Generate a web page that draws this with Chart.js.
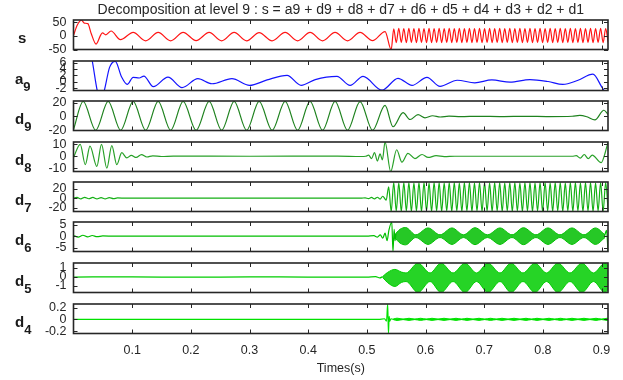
<!DOCTYPE html>
<html>
<head>
<meta charset="utf-8">
<title>Decomposition at level 9</title>
<script src="https://cdn.jsdelivr.net/npm/chart.js@4.4.1/dist/chart.umd.min.js"></script>
<style>
  html, body { margin: 0; padding: 0; background: #fff; }
  #wrap { position: relative; width: 623px; height: 380px; overflow: hidden; font-family: "Liberation Sans", Arial, sans-serif; }
  #wrap canvas { position: absolute; left: 0; }
  .lbl { position: absolute; font-size: 15px; line-height: 15px; font-weight: bold; color: #1a1a1a; white-space: nowrap; }
  .lbl sub { font-size: 13px; vertical-align: -7px; line-height: 0; }
</style>
</head>
<body>
<div id="wrap"></div>
<script>
Chart.defaults.font.family = '"Liberation Sans", Arial, sans-serif';
Chart.defaults.font.size = 12;
Chart.defaults.color = '#262626';

// === TEXTOS E EIXOS ===
const titleText = 'Decomposition at level 9 : s = a9 + d9 + d8 + d7 + d6 + d5 + d4 + d3 + d2 + d1';
const xTitle = 'Times(s)';
const timeTicks = [0.1, 0.2, 0.3, 0.4, 0.5, 0.6, 0.7, 0.8, 0.9];
const tEnd = 0.911;

const panelSym = ['s', 'a', 'd', 'd', 'd', 'd', 'd', 'd'];
const panelSub = ['', '9', '9', '8', '7', '6', '5', '4'];
const yMin = [-50, -2.7, -20.5, -12.8, -28, -6.7, -1.72, -0.24];
const yMax = [58.5, 6.5, 22.5, 12, 34, 6.2, 1.56, 0.26];
const yTicks = [[-50, 0, 50], [-2, 0, 2, 4, 6], [-20, 0, 20], [-10, 0, 10], [-20, 0, 20], [-5, 0, 5], [-1, 0, 1], [-0.2, 0, 0.2]];

// === SINAL s (parte lenta) ===
const sPts = [
  [0.000, 2], [0.0065, 40], [0.0135, 58], [0.0185, 47], [0.0245, 45], [0.0300, 10], [0.0385, -30],
  [0.0465, 4], [0.0495, 11], [0.0550, 4], [0.0640, 18], [0.0800, -14], [0.1017, 13], [0.1230, -18],
  [0.1443, 13], [0.1656, -18], [0.1869, 13], [0.2090, -17], [0.2312, 13], [0.2525, -18], [0.2738, 13],
  [0.2951, -18], [0.3164, 12], [0.3385, -18], [0.3607, 13], [0.3820, -18], [0.4032, 13], [0.4245, -18],
  [0.4458, 13], [0.4671, -18], [0.4884, 13], [0.5097, -17], [0.5310, 16]
];

// parte rápida (picos e vales a cada hfStep segundos)
const hfStep = 0.0043;
const sHfStart = 0.5415;
const sHf = [
  -50, 26, -25, 28, -24, 27, -25, 28, -24, 27,
  -25, 28, -24, 27, -25, 28, -25, 27, -24, 28,
  -25, 27, -24, 28, -25, 27, -24, 28, -25, 27,
  -24, 28, -25, 27, -24, 28, -25, 27, -24, 28,
  -25, 27, -24, 28, -25, 27, -24, 28, -25, 27,
  -24, 28, -25, 27, -24, 28, -25, 27, -24, 28,
  -25, 27, -24, 28, -25, 27, -24, 28, -25, 27,
  -24, 28, -25, 27, -24, 28, -25, 27, -24, 28,
  -25, 27, -24, 28, -25, 27, -24
];

// === APROXIMAÇÃO a9 ===
const a9Pts = [
  [0.000, 30], [0.022, 15], [0.032, 6.5], [0.0404, -2.7], [0.0465, -6], [0.0525, -2.7], [0.0615, 4.5],
  [0.0712, 6.4], [0.082, 1.5], [0.0915, -0.8], [0.1017, 1.4], [0.112, 1.2], [0.120, 1.8], [0.136, -1.5],
  [0.161, 1.5], [0.185, -1.8], [0.212, 1.0], [0.236, -0.6], [0.270, 1.0], [0.300, -1.1], [0.330, 0.6],
  [0.364, 2.0], [0.388, -1.1], [0.412, 0.7], [0.449, 1.7], [0.4714, -1.1], [0.4935, 1.7], [0.5259, -2.6],
  [0.553, 1.1], [0.577, -1.1], [0.6025, 1.4], [0.6247, -1.4], [0.654, 0.5], [0.684, -0.3], [0.713, 0.6],
  [0.744, -0.1], [0.778, 0.7], [0.809, 0.1], [0.834, -0.8], [0.860, 0.5], [0.8853, 2.4], [0.900, -1.5],
  [0.9065, -3.5], [0.911, -6]
];

// === DETALHES ===
const d9Pts = [
  [0.000, -19], [0.0165, 21.8], [0.0378, -20.2], [0.0591, 21.8], [0.0804, -20.2], [0.1017, 21.8],
  [0.1230, -20.2], [0.1443, 21.8], [0.1656, -20.2], [0.1869, 21.8], [0.2090, -20.2], [0.2312, 21.8],
  [0.2525, -20.2], [0.2738, 21.8], [0.2951, -20.2], [0.3164, 21.8], [0.3385, -20.2], [0.3607, 21.8],
  [0.3820, -20.2], [0.4032, 21.8], [0.4245, -20.2], [0.4458, 21.8], [0.4671, -20.2], [0.4884, 21.6],
  [0.5097, -20.2], [0.5310, 16], [0.5446, -15], [0.5617, 5.5], [0.5736, -4.5], [0.5872, 2.5],
  [0.5991, -2], [0.6120, 1], [0.6250, -0.8], [0.6400, 0.5], [0.6600, -0.3], [0.6900, 0.2], [0.7300, -0.2],
  [0.7700, 0.2], [0.8100, -0.2], [0.8500, 0.3], [0.8630, 1.5], [0.8750, -0.5], [0.8887, -5], [0.9040, 9],
  [0.9110, 3]
];

const d8Pts = [
  [0.000, -1], [0.0115, 10], [0.0201, -7], [0.0281, 8.5], [0.0398, -8.5], [0.0477, 10], [0.0568, -10],
  [0.0653, 9], [0.0738, -7], [0.0823, 3], [0.0909, -1.4], [0.0985, 0.8], [0.1068, -1], [0.1158, 1.4],
  [0.1250, -0.6], [0.1350, 0.4], [0.1500, -0.2], [0.1700, 0.1], [0.3000, 0], [0.4500, 0.1], [0.4900, -0.2],
  [0.4980, 0], [0.5030, 1], [0.5080, -2], [0.5130, 3], [0.5180, -4], [0.5225, 2], [0.5265, -3],
  [0.5310, 12], [0.5406, -12.8], [0.5508, 5.5], [0.5598, -5], [0.5700, 2.5], [0.5820, -2], [0.5940, 1.5],
  [0.6044, -1], [0.6180, 0.5], [0.6320, -0.3], [0.6500, 0], [0.8500, 0], [0.8568, 0.5], [0.8637, -1.5],
  [0.8705, 1.5], [0.8773, -2], [0.8841, 1], [0.8994, -5.4], [0.9062, 3], [0.9110, 12]
];

const d7Pts = [
  [0.000, 0], [0.006, 1.5], [0.0125, -1.5], [0.019, 1.8], [0.026, -1.2], [0.033, 1.5], [0.040, -1.5],
  [0.047, 1.2], [0.054, -1.4], [0.061, 1], [0.068, -1], [0.075, 0.5], [0.090, 0], [0.300, 0], [0.490, 0],
  [0.497, 0.8], [0.503, -1], [0.508, 1.5], [0.513, -1.5], [0.518, 2], [0.5225, -2], [0.527, 4]
];
const d7HfStart = 0.5329;
const d7Hf = [
  -4, 24, -28, 33, -27, 32, -28, 33, -27, 33,
  -28, 32, -27, 33, -28, 33, -27, 32, -28, 33,
  -27, 33, -28, 32, -27, 33, -28, 33, -27, 32,
  -28, 33, -27, 33, -28, 32, -27, 33, -28, 33,
  -27, 32, -28, 33, -27, 33, -28, 32, -27, 33,
  -28, 33, -27, 32, -28, 33, -27, 33, -28, 32,
  -27, 33, -28, 33, -27, 32, -28, 33, -27, 33,
  -28, 32, -27, 33, -28, 33, -27, 32, -28, 33,
  -27, 33, -28, 32, -27, 33, -28, 33, -27
];

const d6Pts = [
  [0.000, 0.3], [0.008, -0.4], [0.016, 0.4], [0.024, -0.3], [0.032, 0.3], [0.040, -0.2], [0.050, 0.1],
  [0.070, 0], [0.500, 0], [0.512, 0.2], [0.518, -0.4], [0.523, 0.6], [0.527, -0.9], [0.531, 1.3],
  [0.5345, -2], [0.5375, 2.5], [0.5425, 6.2], [0.5445, -6.7], [0.5465, 3], [0.5480, -2], [0.5495, 1]
];
const d6EndPts = [[0.905, 0], [0.9085, 2.5], [0.911, -6.5]];
// envoltória das oscilações rápidas de d6
const d6EnvT = [0.5470, 0.5565, 0.5659, 0.5834, 0.6043, 0.6247, 0.6451, 0.6647, 0.6843, 0.7056, 0.7269,
  0.7474, 0.7669, 0.7882, 0.8087, 0.8291, 0.8496, 0.8700, 0.8896, 0.9060];
const d6Up = [0.5, 3.0, 3.8, 0.6, 3.6, 0.6, 3.6, 0.6, 3.7, 0.6, 3.6, 0.6, 3.7, 0.6, 3.6, 0.6, 3.6, 0.6, 3.6, 0.6];
const d6Lo = [-0.5, -3.0, -3.8, -0.6, -3.6, -0.6, -3.6, -0.6, -3.7, -0.6, -3.6, -0.6, -3.7, -0.6, -3.6, -0.6, -3.6, -0.6, -3.6, -0.6];

const d5Pts = [[0.000, 0], [0.100, 0.02], [0.200, -0.02], [0.300, 0.02], [0.400, 0], [0.500, 0], [0.515, 0.05], [0.522, -0.1], [0.527, 0.05]];
const d5EnvT = [0.527, 0.5350, 0.5479, 0.5590, 0.5668, 0.5872, 0.6077, 0.6264, 0.6469, 0.6673, 0.6869,
  0.7065, 0.7269, 0.7457, 0.7661, 0.7865, 0.8061, 0.8257, 0.8462, 0.8666, 0.8862, 0.9058, 0.911];
const d5Up = [0.05, 0.5, 0.85, 0.55, 0.45, 1.55, 0.45, 1.55, 0.45, 1.55, 0.45, 1.55, 0.45, 1.55, 0.45,
  1.55, 0.45, 1.55, 0.45, 1.55, 0.45, 1.55, 1.3];
const d5Lo = [-0.05, -0.6, -1.05, -0.6, -0.5, -1.72, -0.5, -1.72, -0.5, -1.72, -0.5, -1.72, -0.5, -1.72, -0.5,
  -1.72, -0.5, -1.72, -0.5, -1.72, -0.5, -1.72, -1.4];

const d4Pts = [
  [0.000, 0], [0.520, 0], [0.530, 0.01], [0.5335, -0.03], [0.5355, 0.26], [0.5368, -0.24], [0.5380, 0.05],
  [0.5392, -0.03], [0.5410, 0.01], [0.5450, 0], [0.9110, 0]
];
const d4EnvT = [0.545, 0.5515, 0.5617, 0.5719, 0.5817, 0.5915, 0.6013, 0.6111, 0.6213, 0.6315, 0.6418,
  0.6520, 0.6614, 0.6707, 0.6809, 0.6911, 0.7009, 0.7107, 0.7205, 0.7303, 0.7406, 0.7508, 0.7610, 0.7712,
  0.7806, 0.7900, 0.8002, 0.8104, 0.8202, 0.8300, 0.8398, 0.8496, 0.8598, 0.8700, 0.8803, 0.8905, 0.8999,
  0.9093, 0.911];
const d4Up = [0.004, 0.02, 0.004, 0.018, 0.004, 0.018, 0.004, 0.018, 0.004, 0.018, 0.004, 0.018, 0.004,
  0.018, 0.004, 0.018, 0.004, 0.018, 0.004, 0.018, 0.004, 0.018, 0.004, 0.018, 0.004, 0.018, 0.004, 0.018,
  0.004, 0.018, 0.004, 0.018, 0.004, 0.018, 0.004, 0.018, 0.004, 0.018, 0.015];

// === CORES ===
const cS = 'rgb(255,20,20)';
const cA = 'rgb(20,20,255)';
const cD = ['rgb(30,130,30)', 'rgb(40,160,40)', 'rgb(20,175,20)', 'rgb(0,190,0)', 'rgb(0,205,0)', 'rgb(0,225,0)'];

// === POSIÇÃO DOS PAINÉIS ===
const boxTops = [20, 61, 101, 142, 182, 222, 263, 304];
const boxH = 29.5;
const pad = 16;

const pts = list => list.map(([x, y]) => ({x, y}));
const grid = (start, vals) => vals.map((y, i) => ({x: start + i * hfStep, y}));
const env = (ts, vs) => ts.map((x, i) => ({x, y: vs[i]}));

function line(data, color) {
  return {data, borderColor: color, borderWidth: 1.2, pointRadius: 0, cubicInterpolationMode: 'monotone', fill: false};
}
function band(upper, lower, color, bg) {
  return [
    {data: upper, borderColor: color, backgroundColor: bg, borderWidth: 1, pointRadius: 0, cubicInterpolationMode: 'monotone', fill: '+1'},
    {data: lower, borderColor: color, borderWidth: 1, pointRadius: 0, cubicInterpolationMode: 'monotone', fill: false}
  ];
}

// moldura com marcas de escala para dentro (estilo matlab)
const boxFrame = {
  id: 'boxFrame',
  afterDatasetsDraw(chart) {
    const {ctx, chartArea: a, scales: {x, y}} = chart;
    ctx.save();
    ctx.strokeStyle = '#262626';
    ctx.lineWidth = 1;
    ctx.beginPath();
    x.ticks.forEach(t => {
      const px = Math.round(x.getPixelForValue(t.value)) + 0.5;
      ctx.moveTo(px, a.top); ctx.lineTo(px, a.top + 4);
      ctx.moveTo(px, a.bottom); ctx.lineTo(px, a.bottom - 4);
    });
    y.ticks.forEach(t => {
      const py = Math.round(y.getPixelForValue(t.value)) + 0.5;
      ctx.moveTo(a.left, py); ctx.lineTo(a.left + 4, py);
      ctx.moveTo(a.right, py); ctx.lineTo(a.right - 4, py);
    });
    ctx.stroke();
    ctx.lineWidth = 1.6;
    ctx.strokeRect(a.left, a.top, a.right - a.left, a.bottom - a.top);
    ctx.restore();
  }
};

const wrap = document.getElementById('wrap');

function panel(i, datasets) {
  const first = i === 0, last = i === boxTops.length - 1;
  const top = first ? 0 : boxTops[i] - pad;
  const bottom = last ? 380 : boxTops[i] + boxH + pad;
  const c = document.createElement('canvas');
  c.width = 623;
  c.height = Math.round(bottom - top);
  c.style.top = top + 'px';
  wrap.appendChild(c);

  const areaTop = boxTops[i] - top;
  const xHeight = last ? c.height - areaTop - boxH : 0;
  const padBottom = last ? 0 : c.height - areaTop - boxH;

  const lbl = document.createElement('div');
  lbl.className = 'lbl';
  lbl.style.left = (panelSub[i] ? 15 : 18) + 'px';
  lbl.style.top = (boxTops[i] + 9.5) + 'px';
  lbl.innerHTML = panelSym[i] + (panelSub[i] ? '<sub>' + panelSub[i] + '</sub>' : '');
  wrap.appendChild(lbl);

  return new Chart(c, {
    type: 'line',
    data: {datasets},
    options: {
      responsive: false,
      animation: false,
      devicePixelRatio: 1,
      layout: {padding: {left: 0, right: 15, top: first ? 0 : areaTop, bottom: padBottom}},
      plugins: {
        legend: {display: false},
        tooltip: {enabled: false},
        title: {
          display: first,
          text: titleText,
          fullSize: false,
          color: '#262626',
          font: {size: 14, weight: 'normal', lineHeight: 1.1},
          padding: {top: 2, bottom: 2.6}
        }
      },
      scales: {
        x: {
          type: 'linear', min: 0, max: tEnd, bounds: 'data',
          afterBuildTicks: s => { s.ticks = timeTicks.map(value => ({value})); },
          afterFit: s => { s.height = xHeight; },
          grid: {display: false, drawTicks: false},
          border: {display: false},
          ticks: {display: last, padding: 10, maxRotation: 0, autoSkip: false, font: {size: 12.5}, callback: v => v.toFixed(1)},
          title: {display: last, text: xTitle, font: {size: 12.5}, padding: {top: 0, bottom: 4}}
        },
        y: {
          type: 'linear', min: yMin[i], max: yMax[i], bounds: 'data',
          afterBuildTicks: s => { s.ticks = yTicks[i].map(value => ({value})); },
          afterFit: s => { s.width = 73.5; },
          grid: {display: false, drawTicks: false},
          border: {display: false},
          ticks: {padding: 7, autoSkip: false, font: {size: 12.5}, callback: v => String(v)}
        }
      }
    },
    plugins: [boxFrame]
  });
}

panel(0, [line(pts(sPts).concat(grid(sHfStart, sHf)), cS)]);
panel(1, [line(pts(a9Pts), cA)]);
panel(2, [line(pts(d9Pts), cD[0])]);
panel(3, [line(pts(d8Pts), cD[1])]);
panel(4, [line(pts(d7Pts).concat(grid(d7HfStart, d7Hf)), cD[2])]);
panel(5, [line(pts(d6Pts), cD[3]), line(pts(d6EndPts), cD[3])]
  .concat(band(env(d6EnvT, d6Up), env(d6EnvT, d6Lo), cD[3], 'rgba(0,190,0,0.85)')));
panel(6, [line(pts(d5Pts), cD[4])]
  .concat(band(env(d5EnvT, d5Up), env(d5EnvT, d5Lo), cD[4], 'rgba(0,205,0,0.85)')));
panel(7, [line(pts(d4Pts), cD[5])]
  .concat(band(env(d4EnvT, d4Up), env(d4EnvT, d4Up.map(v => -v)), cD[5], 'rgba(0,225,0,0.85)')));
</script>
</body>
</html>
